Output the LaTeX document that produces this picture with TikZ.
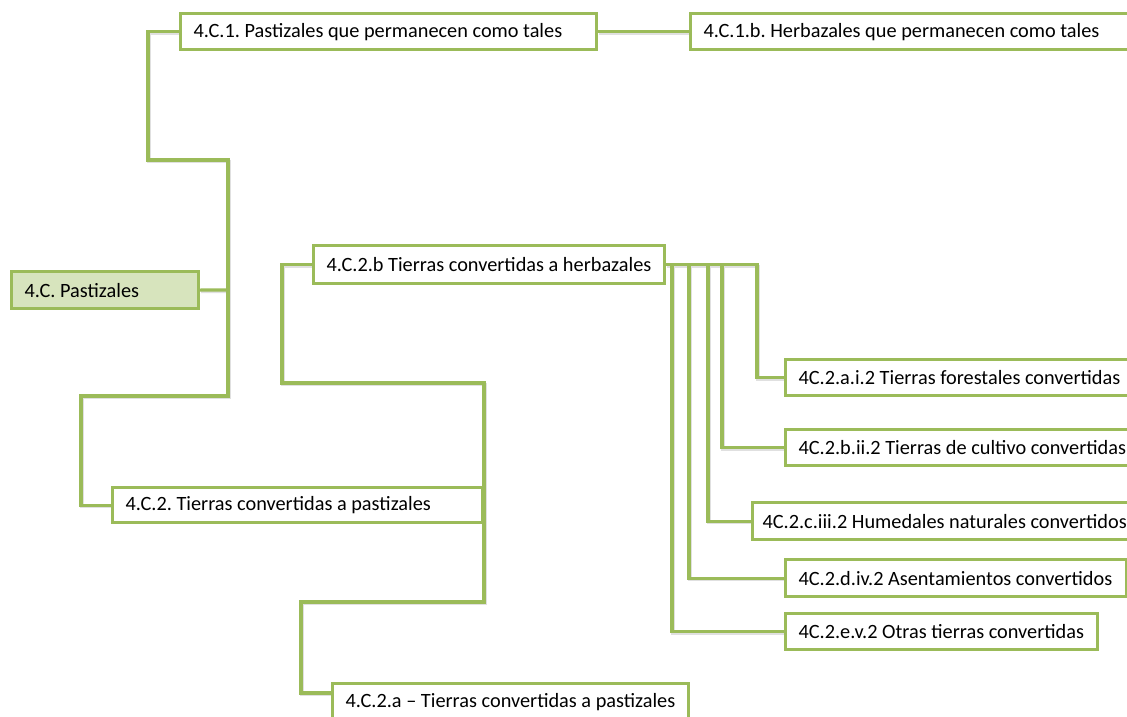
\documentclass[tikz,border=0pt]{standalone}
\usepackage{fontspec}
\setmainfont{Carlito}
\frenchspacing
\usetikzlibrary{calc}
\definecolor{lg}{HTML}{9BBB59}
\definecolor{lgfill}{HTML}{D7E4BD}
\newcommand\bxtext[2]{\makebox[#1][l]{#2}}
\tikzset{
  box/.style={draw=lg, line width=3.2pt, fill=white, inner xsep=13pt, inner ysep=0pt,
    anchor=north west, font=\fontsize{20.3}{23}\selectfont, text=black},
  conn/.style={draw=lg, line width=3.2pt, line join=miter},
  shad/.style={draw=black!12, line width=3.2pt, line join=miter, transform canvas={shift={(1pt,-1.5pt)}}},
}
\begin{document}
\begin{tikzpicture}[x=1pt,y=-1pt]
\useasboundingbox (0,0) rectangle (1127,717);
\clip (0,0) rectangle (1127,717);
% junction coordinates
\coordinate (jA) at (228,290);
\coordinate (jE) at (484,503);
% nodes (placed invisibly first to get anchors)
\begin{scope}[box/.append style={draw=none, fill=none, text opacity=0}]
\node[box, minimum height=37pt] (A) at (10,270) {\bxtext{161pt}{4.C. Pastizales}};
\node[box, minimum height=36pt] (B) at (179,12) {\bxtext{390pt}{4.C.1. Pastizales que permanecen como tales}};
\node[box, minimum height=36pt] (C) at (689,12) {\bxtext{434pt}{4.C.1.b. Herbazales que permanecen como tales}};
\node[box, minimum height=38pt] (D) at (312,244) {\bxtext{325pt}{4.C.2.b Tierras convertidas a herbazales}};
\node[box, minimum height=35pt] (E) at (111,486) {\bxtext{344pt}{4.C.2. Tierras convertidas a pastizales}};
\node[box, minimum height=36pt] (F) at (331,682) {\bxtext{330pt}{4.C.2.a – Tierras convertidas a pastizales}};
\node[box, minimum height=36pt] (G) at (784,358) {\bxtext{354pt}{4C.2.a.i.2 Tierras forestales convertidas}};
\node[box, minimum height=36pt] (H) at (784,428) {\bxtext{354pt}{4C.2.b.ii.2 Tierras de cultivo convertidas}};
\node[box, inner xsep=10pt, minimum height=37pt] (I) at (751,501) {\bxtext{380pt}{4C.2.c.iii.2 Humedales naturales convertidos}};
\node[box, minimum height=37pt] (J) at (784,558) {\bxtext{315pt}{4C.2.d.iv.2 Asentamientos convertidos}};
\node[box, minimum height=36pt] (K) at (784,612) {\bxtext{286pt}{4C.2.e.v.2 Otras tierras convertidas}};
\end{scope}
% connector shadows and connectors
\foreach \s in {shad,conn}{
  \draw[\s] (A.east) -- (jA);
  \draw[\s] (B.west) -| (148,160) -- (228,160) -- (228,396) -- (81,396) |- (E.west);
  \draw[\s] (B.east) -- (C.west);
  \draw[\s] (E.east) -- (jE);
  \draw[\s] (D.west) -| (282,383) -- (484,383) -- (484,602) -- (301,602) |- ($(F.north west)+(0,11)$);
  \draw[\s] (D.east) -| (757,376) |- (G.west);
  \draw[\s] (722,263) |- (H.west);
  \draw[\s] (708,263) |- (I.west);
  \draw[\s] (689,263) |- (J.west);
  \draw[\s] (672,263) |- (K.west);
}
% visible nodes
\node[box, fill=lgfill, minimum height=37pt] (A) at (10,270) {\bxtext{161pt}{4.C. Pastizales}};
\node[box, minimum height=36pt] (B) at (179,12) {\bxtext{390pt}{4.C.1. Pastizales que permanecen como tales}};
\node[box, minimum height=36pt] (C) at (689,12) {\bxtext{434pt}{4.C.1.b. Herbazales que permanecen como tales}};
\node[box, minimum height=38pt] (D) at (312,244) {\bxtext{325pt}{4.C.2.b Tierras convertidas a herbazales}};
\node[box, minimum height=35pt] (E) at (111,486) {\bxtext{344pt}{4.C.2. Tierras convertidas a pastizales}};
\node[box, minimum height=36pt] (F) at (331,682) {\bxtext{330pt}{4.C.2.a – Tierras convertidas a pastizales}};
\node[box, minimum height=36pt] (G) at (784,358) {\bxtext{354pt}{4C.2.a.i.2 Tierras forestales convertidas}};
\node[box, minimum height=36pt] (H) at (784,428) {\bxtext{354pt}{4C.2.b.ii.2 Tierras de cultivo convertidas}};
\node[box, inner xsep=10pt, minimum height=37pt] (I) at (751,501) {\bxtext{380pt}{4C.2.c.iii.2 Humedales naturales convertidos}};
\node[box, minimum height=37pt] (J) at (784,558) {\bxtext{315pt}{4C.2.d.iv.2 Asentamientos convertidos}};
\node[box, minimum height=36pt] (K) at (784,612) {\bxtext{286pt}{4C.2.e.v.2 Otras tierras convertidas}};
\end{tikzpicture}
\end{document}
